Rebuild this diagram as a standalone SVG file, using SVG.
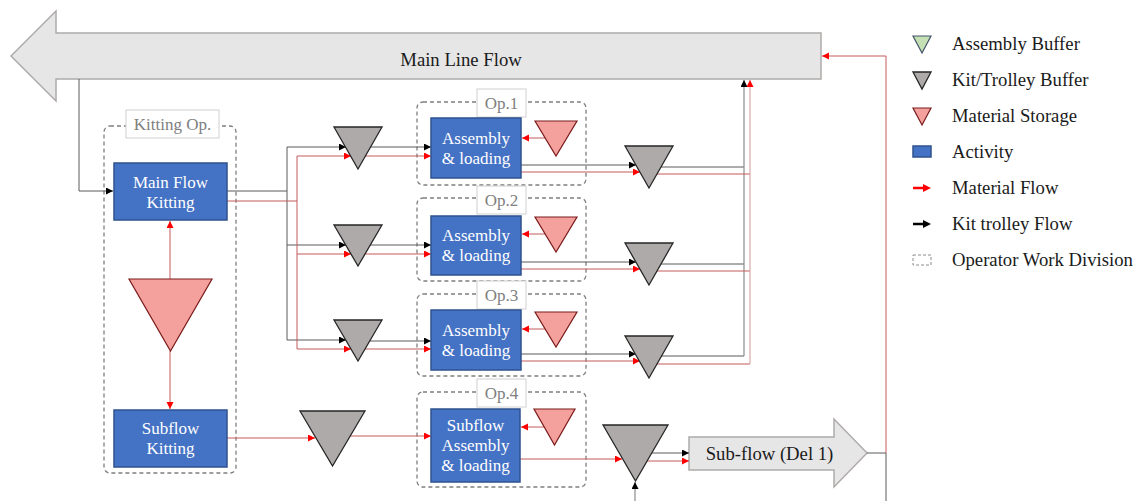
<svg xmlns="http://www.w3.org/2000/svg" width="1139" height="501" viewBox="0 0 1139 501">
<style>
text{font-family:"Liberation Serif","Times New Roman",serif;}
.act{fill:#4472C4;stroke:#2F528F;stroke-width:1.5;}
.at{fill:#fff;font-size:17px;text-anchor:middle;}
.kb{fill:#AEAAAA;stroke:#262626;stroke-width:1.3;}
.ms{fill:#F4A09C;stroke:#7B1C1C;stroke-width:1.2;}
.div{fill:none;stroke:#7F7F7F;stroke-width:1.3;stroke-dasharray:4,3;}
.lbl{fill:#fff;stroke:#D0D0D0;stroke-width:1;}
.lt{fill:#808080;font-size:17px;text-anchor:middle;}
.big{fill:#E7E6E6;stroke:#AFABAB;stroke-width:1.5;}
.bt{fill:#1a1a1a;font-size:18.7px;text-anchor:middle;}
.k{fill:none;stroke:#5A5A5A;stroke-width:1;}
.r{fill:none;stroke:#C55A5A;stroke-width:1;}
.k2{fill:none;stroke:#8C8C8C;stroke-width:1.2;}
.r2{fill:none;stroke:#D8A8A8;stroke-width:1.2;}
.ka{marker-end:url(#ak);}
.ra{marker-end:url(#ar);}
.leg{fill:#1a1a1a;font-size:18.7px;}
</style>
<defs>
<marker id="ak" markerUnits="userSpaceOnUse" markerWidth="8" markerHeight="8" refX="7" refY="3.5" orient="auto"><path d="M0,0 L7,3.5 L0,7 z" fill="#000"/></marker>
<marker id="ar" markerUnits="userSpaceOnUse" markerWidth="8" markerHeight="8" refX="7" refY="3.5" orient="auto"><path d="M0,0 L7,3.5 L0,7 z" fill="#FF0000"/></marker>
</defs>
<rect width="1139" height="501" fill="#fff"/>

<g id="main-line-flow">
<path class="big" d="M11,56 L56,11 L56,33 L821,33 L821,79 L56,79 L56,101 Z"/>
<text class="bt" x="461" y="66">Main Line Flow</text>
</g>

<g id="sub-flow">
<path class="big" d="M689,437 H834 V419 L867,453 L834,487 V470 H689 Z"/>
<text class="bt" x="769.5" y="460">Sub-flow (Del 1)</text>
</g>

<g id="divisions">
<g id="kitting-op">
<rect class="div" x="104" y="126" width="132" height="347" rx="6"/>
<rect class="lbl" x="126" y="110" width="93" height="28"/>
<text class="lt" x="172.5" y="130">Kitting Op.</text>
</g>
<g id="op1">
<rect class="div" x="417" y="102" width="169" height="83" rx="6"/>
<rect class="lbl" x="477" y="89" width="49" height="28"/>
<text class="lt" x="501.5" y="109">Op.1</text>
</g>
<g id="op2">
<rect class="div" x="417" y="198" width="169" height="83" rx="6"/>
<rect class="lbl" x="477" y="186" width="49" height="28"/>
<text class="lt" x="501.5" y="206">Op.2</text>
</g>
<g id="op3">
<rect class="div" x="417" y="294" width="169" height="82" rx="6"/>
<rect class="lbl" x="477" y="281" width="49" height="28"/>
<text class="lt" x="501.5" y="301">Op.3</text>
</g>
<g id="op4">
<rect class="div" x="417" y="392" width="169" height="95" rx="6"/>
<rect class="lbl" x="477" y="379" width="49" height="28"/>
<text class="lt" x="501.5" y="399">Op.4</text>
</g>
</g>

<g id="connectors">
<!-- kit trolley flow -->
<path class="k ka" d="M79,79 V191 H113"/>
<path class="k ka" d="M227,191 H287 V147 H346"/>
<path class="k ka" d="M287,191 V245 H346"/>
<path class="k ka" d="M287,245 V340 H346"/>
<path class="k ka" d="M370,147 H431"/>
<path class="k ka" d="M370,245 H431"/>
<path class="k ka" d="M370,341 H431"/>
<path class="k ka" d="M521,165 H636"/>
<path class="k ka" d="M521,262 H636"/>
<path class="k ka" d="M521,354 H636"/>
<path class="k" d="M661,167 H744"/>
<path class="k" d="M661,264 H744"/>
<path class="k" d="M661,356 H744"/>
<path class="k2 ka" d="M744,356 V80"/>
<path class="k ka" d="M652,453 H689"/>
<path class="k2 ka" d="M635,501 V482"/>
<path class="k" d="M867,453 H886 V501"/>
<!-- material flow -->
<path class="r ra" d="M227,201 H297 V156 H351"/>
<path class="r ra" d="M297,201 V254 H351"/>
<path class="r ra" d="M297,254 V349 H351"/>
<path class="r ra" d="M365,156 H431"/>
<path class="r ra" d="M365,254 H431"/>
<path class="r ra" d="M365,349 H431"/>
<path class="r ra" d="M521,172 H640"/>
<path class="r ra" d="M521,269 H640"/>
<path class="r ra" d="M521,361 H640"/>
<path class="r" d="M657,174 H750"/>
<path class="r" d="M657,271 H750"/>
<path class="r" d="M657,364 H750"/>
<path class="r2 ra" d="M750,364 V80"/>
<path class="r ra" d="M170,279 V221"/>
<path class="r ra" d="M170,351 V409"/>
<path class="r ra" d="M227,438 H315"/>
<path class="r ra" d="M350,436 H431"/>
<path class="r ra" d="M520,459 H622"/>
<path class="r ra" d="M647,461 H689"/>
<path class="r ra" d="M545,138 H522"/>
<path class="r ra" d="M545,234 H522"/>
<path class="r ra" d="M545,329 H522"/>
<path class="r ra" d="M544,427 H521"/>
<path class="r ra" d="M886,453 V56 H822"/>
</g>

<g id="main-flow-kitting">
<rect class="act" x="114" y="163" width="113" height="57"/>
<text class="at" x="170.5" y="188">Main Flow</text>
<text class="at" x="170.5" y="208">Kitting</text>
</g>
<g id="kitting-storage"><path class="ms" d="M129,279 H212 L170.5,351 Z"/></g>
<g id="subflow-kitting">
<rect class="act" x="114" y="410" width="113" height="57"/>
<text class="at" x="170.5" y="434">Subflow</text>
<text class="at" x="170.5" y="454">Kitting</text>
</g>

<g id="kit-buffer-1"><path class="kb" d="M334,127 H382 L358,169 Z"/></g>
<g id="kit-buffer-2"><path class="kb" d="M334,225 H382 L358,266 Z"/></g>
<g id="kit-buffer-3"><path class="kb" d="M334,320 H382 L358,361 Z"/></g>
<g id="kit-buffer-4"><path class="kb" d="M300,411 H365 L332.5,466 Z"/></g>

<g id="assembly-1">
<rect class="act" x="431" y="118" width="90" height="60"/>
<text class="at" x="476" y="144">Assembly</text>
<text class="at" x="476" y="164">&amp; loading</text>
</g>
<g id="assembly-2">
<rect class="act" x="431" y="216" width="90" height="59"/>
<text class="at" x="476" y="241">Assembly</text>
<text class="at" x="476" y="261">&amp; loading</text>
</g>
<g id="assembly-3">
<rect class="act" x="431" y="310" width="90" height="60"/>
<text class="at" x="476" y="336">Assembly</text>
<text class="at" x="476" y="356">&amp; loading</text>
</g>
<g id="subflow-assembly">
<rect class="act" x="431" y="409" width="89" height="73"/>
<text class="at" x="475.5" y="431">Subflow</text>
<text class="at" x="475.5" y="451">Assembly</text>
<text class="at" x="475.5" y="471">&amp; loading</text>
</g>

<g id="storage-1"><path class="ms" d="M535,121 H577 L556,156 Z"/></g>
<g id="storage-2"><path class="ms" d="M535,217 H577 L556,252 Z"/></g>
<g id="storage-3"><path class="ms" d="M535,312 H577 L556,347 Z"/></g>
<g id="storage-4"><path class="ms" d="M534,409 H575 L554.5,445 Z"/></g>

<g id="out-buffer-1"><path class="kb" d="M625,146 H673 L649,188 Z"/></g>
<g id="out-buffer-2"><path class="kb" d="M625,243 H673 L649,285 Z"/></g>
<g id="out-buffer-3"><path class="kb" d="M625,336 H673 L649,378 Z"/></g>
<g id="out-buffer-4"><path class="kb" d="M603,425 H668 L635.5,481 Z"/></g>

<g id="legend">
<path d="M913,36 H931 L922,53 Z" fill="#C5E0B4" stroke="#44546A" stroke-width="1.2"/>
<text class="leg" x="952" y="50">Assembly Buffer</text>
<path class="kb" d="M913,72 H931 L922,89 Z"/>
<text class="leg" x="952" y="86">Kit/Trolley Buffer</text>
<path class="ms" d="M913,108 H931 L922,125 Z"/>
<text class="leg" x="952" y="122">Material Storage</text>
<rect class="act" x="913" y="146" width="18" height="11"/>
<text class="leg" x="952" y="158">Activity</text>
<path d="M913,188 H924" stroke="#FF0000" stroke-width="2.5"/><path d="M923,184 L931,188 L923,192 Z" fill="#FF0000"/>
<text class="leg" x="952" y="194">Material Flow</text>
<path d="M913,224 H924" stroke="#000" stroke-width="2.5"/><path d="M923,220 L931,224 L923,228 Z" fill="#000"/>
<text class="leg" x="952" y="230">Kit trolley Flow</text>
<rect x="913" y="255" width="18" height="10" fill="none" stroke="#8C8C8C" stroke-width="1" stroke-dasharray="3,2"/>
<text class="leg" x="952" y="266">Operator Work Division</text>
</g>
</svg>
